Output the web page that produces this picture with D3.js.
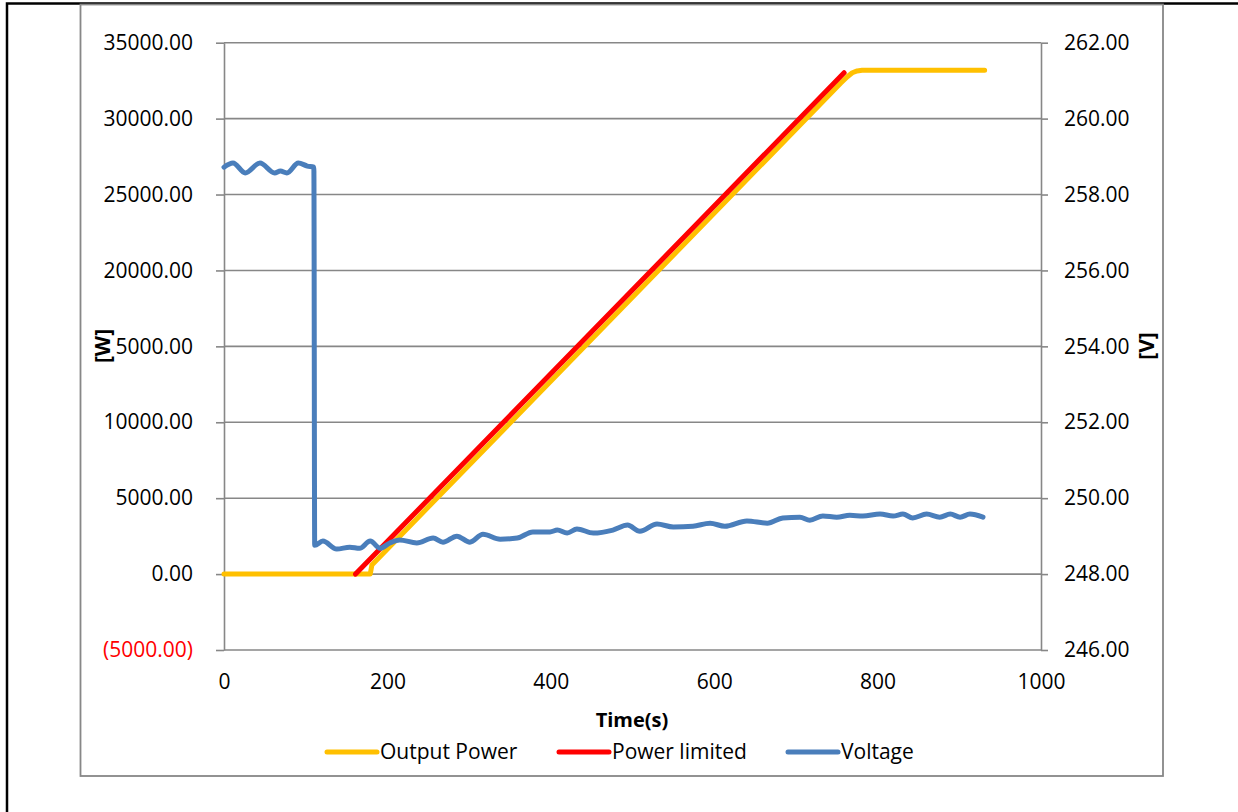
<!DOCTYPE html>
<html lang="en">
<head>
  <meta charset="UTF-8">
  <title>Output Power / Voltage</title>
  <script src="https://d3js.org/d3.v7.min.js"></script>
  <style>
    body { margin: 0; background: #fff; }
    svg text { font-family: "Open Sans", "Noto Sans", sans-serif; }
  </style>
</head>
<body>
<div id="chart-container"></div>

<script>
// Data
const powerTicks = [-5000, 0, 5000, 10000, 15000, 20000, 25000, 30000, 35000];
const voltTicks = [246, 248, 250, 252, 254, 256, 258, 260, 262];
const timeTicks = [0, 200, 400, 600, 800, 1000];

// Output Power [W] vs time [s]
const outputPower = [
  [0, 0], [179, 0], [181, 600], [755, 32340], [763, 32760], [769, 33020],
  [775, 33140], [781, 33180], [931, 33180]
];

// Power limited [W] vs time [s]
const powerLimited = [
  [161, 0], [759, 33020]
];

// Voltage [V] vs time [s]
const voltage = [
  [0, 258.72], [11, 258.83], [26, 258.57], [44, 258.83], [62, 258.57], [69, 258.62],
  [77, 258.57], [91, 258.83], [102, 258.75], [110, 258.72], [111, 248.76], [121, 248.87],
  [138, 248.66], [154, 248.71], [166, 248.68], [179, 248.87], [191, 248.68], [203, 248.82],
  [215, 248.90], [236, 248.82], [256, 248.95], [268, 248.84], [285, 249.00], [301, 248.84],
  [317, 249.05], [338, 248.92], [359, 248.95], [378, 249.11], [399, 249.11], [408, 249.16],
  [420, 249.08], [432, 249.19], [452, 249.08], [476, 249.16], [494, 249.29], [509, 249.13],
  [530, 249.32], [550, 249.24], [574, 249.26], [595, 249.34], [613, 249.26], [640, 249.40],
  [665, 249.34], [684, 249.48], [705, 249.50], [717, 249.42], [733, 249.53], [750, 249.50],
  [766, 249.55], [782, 249.53], [803, 249.58], [819, 249.53], [831, 249.58], [843, 249.48],
  [860, 249.58], [876, 249.50], [889, 249.58], [901, 249.50], [913, 249.58], [929, 249.50]
];

const legendItems = [
  { name: "Output Power", color: "#FFC000" },
  { name: "Power limited", color: "#FF0000" },
  { name: "Voltage", color: "#4A7EBB" }
];

const width = 1238, height = 812;
const gridColor = "#878787";

const svg = d3.select("#chart-container")
  .append("svg")
  .attr("width", width)
  .attr("height", height);

// outer page frame and chart area frame
svg.append("rect")
  .attr("x", 7).attr("y", 3.5).attr("width", 1260).attr("height", 840)
  .attr("fill", "none").attr("stroke", "#000").attr("stroke-width", 2.5);

svg.append("rect")
  .attr("x", 80.5).attr("y", 4.5).attr("width", 1082.5).attr("height", 771.5)
  .attr("fill", "none").attr("stroke", gridColor).attr("stroke-width", 1.8);

// scales
const x = d3.scaleLinear().domain([0, 1000]).range([224, 1041]);
const yL = d3.scaleLinear().domain([-5000, 35000]).range([650, 42.7]);
const yR = d3.scaleLinear().domain([246, 262]).range([650, 42.7]);

// gridlines
svg.append("g")
  .selectAll("line")
  .data(powerTicks)
  .enter()
  .append("line")
  .attr("x1", x(0)).attr("x2", x(1000))
  .attr("y1", d => yL(d)).attr("y2", d => yL(d))
  .attr("stroke", gridColor).attr("stroke-width", 1.6);

// number format like Excel: negatives in parentheses
const fmtPower = d => d < 0 ? "(" + d3.format(".2f")(-d) + ")" : d3.format(".2f")(d);

const leftAxis = svg.append("g")
  .attr("transform", `translate(${x(0)},0)`)
  .call(d3.axisLeft(yL).tickValues(powerTicks).tickFormat(fmtPower)
    .tickSize(8).tickSizeOuter(0).tickPadding(23));

const rightAxis = svg.append("g")
  .attr("transform", `translate(${x(1000)},0)`)
  .call(d3.axisRight(yR).tickValues(voltTicks).tickFormat(d3.format(".2f"))
    .tickSize(7).tickSizeOuter(0).tickPadding(16));

const bottomAxis = svg.append("g")
  .attr("transform", `translate(0,${yL(-5000)})`)
  .call(d3.axisBottom(x).tickValues(timeTicks).tickFormat(d3.format("d"))
    .tickSize(0).tickPadding(24));

[leftAxis, rightAxis, bottomAxis].forEach(g => {
  g.select(".domain").attr("stroke", gridColor).attr("stroke-width", 1.6);
  g.selectAll(".tick line").attr("stroke", gridColor).attr("stroke-width", 1.6);
  g.selectAll(".tick text")
    .attr("font-family", "'Open Sans', sans-serif")
    .attr("font-size", 21)
    .attr("fill", "#000");
});
bottomAxis.select(".domain").remove();
leftAxis.selectAll(".tick text").attr("fill", d => d < 0 ? "#FF0000" : "#000");

// series lines
const linePower = d3.line().x(d => x(d[0])).y(d => yL(d[1]));
const lineVolt = d3.line().x(d => x(d[0])).y(d => yR(d[1])).curve(d3.curveMonotoneX);

svg.append("path")
  .datum(outputPower)
  .attr("d", linePower)
  .attr("fill", "none").attr("stroke", "#FFC000").attr("stroke-width", 5)
  .attr("stroke-linejoin", "round").attr("stroke-linecap", "round");

svg.append("path")
  .datum(powerLimited)
  .attr("d", linePower)
  .attr("fill", "none").attr("stroke", "#FF0000").attr("stroke-width", 5)
  .attr("stroke-linejoin", "round").attr("stroke-linecap", "round");

svg.append("path")
  .datum(voltage)
  .attr("d", lineVolt)
  .attr("fill", "none").attr("stroke", "#4A7EBB").attr("stroke-width", 5)
  .attr("stroke-linejoin", "round").attr("stroke-linecap", "round");

// axis titles
svg.append("text")
  .attr("x", 632).attr("y", 727)
  .attr("text-anchor", "middle")
  .attr("font-size", 20).attr("font-weight", "bold")
  .text("Time(s)");

const wTitle = svg.append("g").attr("transform", "translate(103,346) rotate(-90)");
wTitle.append("rect")
  .attr("x", -19).attr("y", -11).attr("width", 38).attr("height", 22)
  .attr("fill", "#fff");
wTitle.append("text")
  .attr("text-anchor", "middle").attr("dy", "0.35em")
  .attr("font-size", 21).attr("font-weight", "bold")
  .text("[W]");

svg.append("text")
  .attr("transform", "translate(1147,346) rotate(-90)")
  .attr("text-anchor", "middle").attr("dy", "0.35em")
  .attr("font-size", 21).attr("font-weight", "bold")
  .text("[V]");

// legend
const legendX = [325, 557, 786];
const legend = svg.append("g")
  .selectAll("g")
  .data(legendItems)
  .enter()
  .append("g")
  .attr("transform", (d, i) => `translate(${legendX[i]},752)`);

legend.append("line")
  .attr("x1", 2).attr("x2", 52)
  .attr("stroke", d => d.color).attr("stroke-width", 5)
  .attr("stroke-linecap", "round");

legend.append("text")
  .attr("x", 55).attr("dy", "0.35em")
  .attr("font-size", 21)
  .text(d => d.name);
</script>

</body>
</html>
